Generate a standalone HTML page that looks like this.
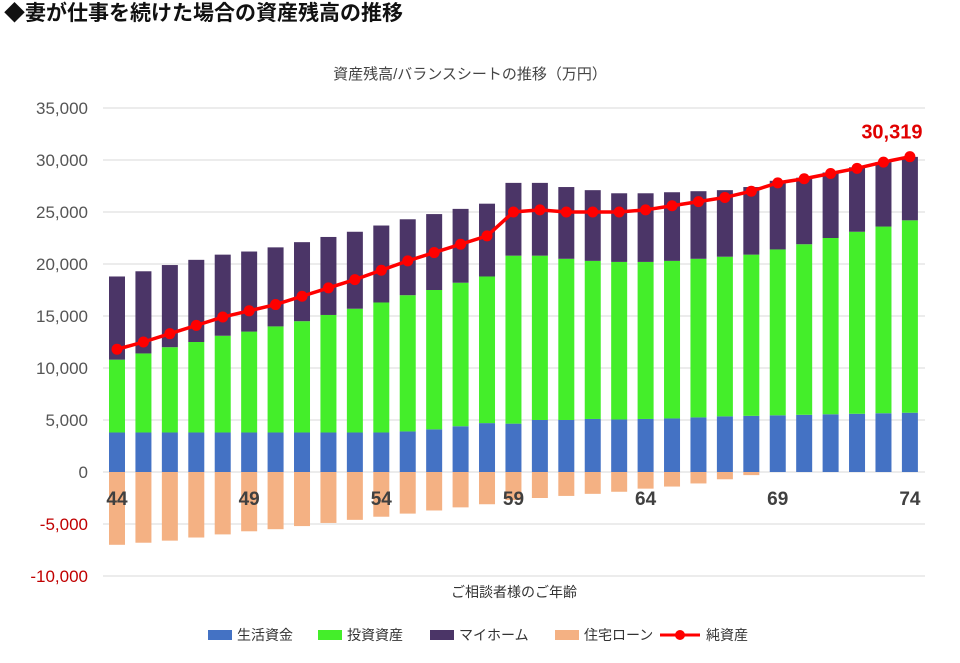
<!DOCTYPE html>
<html><head><meta charset="utf-8"><style>
body{margin:0;background:#fff;width:960px;height:658px;overflow:hidden;font-family:"Liberation Sans","Noto Sans CJK JP",sans-serif;}
</style></head><body>
<svg width="960" height="658" xmlns="http://www.w3.org/2000/svg">
<text x="4" y="20" font-size="21" font-weight="bold" fill="#111" font-family="Liberation Sans,Noto Sans CJK JP,sans-serif">◆妻が仕事を続けた場合の資産残高の推移</text>
<text x="470" y="79" font-size="15" fill="#444" text-anchor="middle" font-family="Liberation Sans,Noto Sans CJK JP,sans-serif">資産残高/バランスシートの推移（万円）</text>
<g id="grid"></g><g id="bars"></g><g id="line"></g><g id="labels"></g>
<text x="514" y="597" font-size="14" fill="#333" text-anchor="middle" font-family="Liberation Sans,Noto Sans CJK JP,sans-serif">ご相談者様のご年齢</text>
<g id="legend" font-size="14" fill="#333" font-family="Liberation Sans,Noto Sans CJK JP,sans-serif">
<g><rect x="208" y="630" width="24" height="10" fill="#4472C4"/><text x="237" y="640">生活資金</text></g>
<g><rect x="318" y="630" width="24" height="10" fill="#44EE2A"/><text x="347" y="640">投資資産</text></g>
<g><rect x="430" y="630" width="24" height="10" fill="#4B3567"/><text x="459" y="640">マイホーム</text></g>
<g><rect x="555" y="630" width="24" height="10" fill="#F4B183"/><text x="584" y="640">住宅ローン</text></g>
<g><line x1="660" y1="635" x2="700" y2="635" stroke="#FF0000" stroke-width="3"/><circle cx="680" cy="635" r="5" fill="#FF0000"/><text x="706" y="640">純資産</text></g>
</g>
</svg>
<script>
const ages=[44,45,46,47,48,49,50,51,52,53,54,55,56,57,58,59,60,61,62,63,64,65,66,67,68,69,70,71,72,73,74];
const living=[3800,3800,3800,3800,3800,3800,3800,3800,3800,3800,3800,3900,4100,4400,4700,4650,5000,5000,5100,5050,5100,5150,5250,5350,5400,5450,5500,5550,5600,5650,5700];
const invest=[7000,7600,8200,8700,9300,9700,10200,10700,11300,11900,12500,13100,13400,13800,14100,16150,15800,15500,15200,15150,15100,15150,15250,15350,15500,15950,16400,16950,17500,17950,18500];
const home=[8000,7900,7900,7900,7800,7700,7600,7600,7500,7400,7400,7300,7300,7100,7000,7000,7000,6900,6800,6600,6600,6600,6500,6400,6500,6600,6400,6300,6200,6200,6100];
const loan=[-7000,-6800,-6600,-6300,-6000,-5700,-5500,-5200,-4900,-4600,-4300,-4000,-3700,-3400,-3100,-2700,-2500,-2300,-2100,-1900,-1600,-1400,-1100,-700,-300,0,0,0,0,0,0];
const net=[11800,12500,13300,14100,14900,15500,16100,16900,17700,18500,19400,20300,21100,21900,22700,25000,25200,25000,25000,25000,25200,25600,26000,26400,27000,27800,28200,28700,29200,29800,30319];
const yTicks=[35000,30000,25000,20000,15000,10000,5000,0,-5000,-10000];
const xLabelAges=[44,49,54,59,64,69,74];
const NS="http://www.w3.org/2000/svg";
const y=v=>472-v*(364/35000);
const x=i=>117+i*26.43;
const bw=16;
function mk(t,a,p){const e=document.createElementNS(NS,t);for(const k in a)e.setAttribute(k,a[k]);p.appendChild(e);return e;}
const G=document.getElementById('grid'),B=document.getElementById('bars'),L=document.getElementById('line'),T=document.getElementById('labels');
yTicks.forEach(v=>{
 const ln=mk('line',{x1:103,x2:925,y1:y(v),y2:y(v),stroke:'#d9d9d9','stroke-width':1},G);
 
 
 const t=mk('text',{x:88,y:y(v)+6,'text-anchor':'end','font-size':17,fill:v<0?'#C00000':'#555'},G);
 t.textContent=v.toLocaleString('en-US');
 
 
});
ages.forEach((a,i)=>{
 const cx=x(i)-bw/2;
 const segs=[[0,living[i],'#4472C4','bar-living'],[living[i],living[i]+invest[i],'#44EE2A','bar-investment'],[living[i]+invest[i],living[i]+invest[i]+home[i],'#4B3567','bar-home']];
 segs.forEach(s=>{const r=mk('rect',{x:cx,y:y(s[1]),width:bw,height:y(s[0])-y(s[1]),fill:s[2]},B);
  
  });
 if(loan[i]<0){const r=mk('rect',{x:cx,y:y(0),width:bw,height:y(loan[i])-y(0),fill:'#F4B183'},B);
  
  }
});
mk('polyline',{points:net.map((v,i)=>x(i)+','+y(v)).join(' '),fill:'none',stroke:'#FF0000','stroke-width':3.5},L);
net.forEach((v,i)=>{const c=mk('circle',{cx:x(i),cy:y(v),r:5.5,fill:'#FF0000'},L);
 
 });
xLabelAges.forEach(a=>{const i=ages.indexOf(a);
 const t=mk('text',{x:x(i),y:505,'text-anchor':'middle','font-size':19,'font-weight':'bold',fill:'#404040'},T);
 t.textContent=a;
 
 });
const li=net.length-1;
const lab=mk('text',{x:x(li)-18,y:y(net[li])-18,'text-anchor':'middle','font-size':20,'font-weight':'bold',fill:'#E00000'},T);
lab.textContent=net[li].toLocaleString('en-US');


</script>
</body></html>
